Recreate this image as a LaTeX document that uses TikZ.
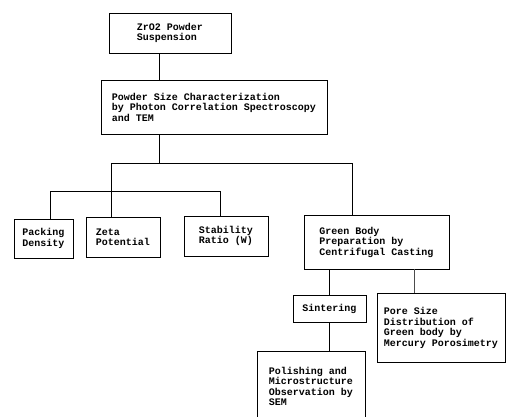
\documentclass[tikz,border=0pt]{standalone}
\usepackage{fontspec}
\setmonofont{Liberation Mono}
\usepackage{tikz}
\usetikzlibrary{shapes,arrows,positioning}

\begin{document}
\begin{tikzpicture}[x=1pt,y=-1pt]
		\tikzstyle{Box}		= [rectangle, draw, line width=0.9pt, inner sep=0pt, align=left, font=\ttfamily\bfseries\fontsize{10}{10.5}\selectfont]
		\tikzstyle{Line}	= [line width=0.9pt, black]
		\tikzstyle{Gray}	= [line width=0.9pt, black!70]

		\useasboundingbox (0,0) rectangle (514,417);

		\node (zr)   at (170, 33)    [Box, minimum width=122pt, minimum height=40pt] {ZrO2 Powder\\Suspension};
		\node (psc)  at (214, 107)   [Box, minimum width=226pt, minimum height=54pt] {Powder Size Characterization\\by Photon Correlation Spectroscopy\\and TEM};
		\node (pack) at (43.5, 238.5) [Box, minimum width=59pt, minimum height=39pt] {Packing\\Density};
		\node (zeta) at (123, 237)   [Box, minimum width=74pt, minimum height=40pt] {Zeta\\Potential};
		\node (stab) at (226, 236)   [Box, minimum width=84pt, minimum height=40pt] {Stability\\Ratio (W)};
		\node (gbp)  at (376.5, 242) [Box, minimum width=145pt, minimum height=54pt] {Green Body\\Preparation by\\Centrifugal Casting};
		\node (sint) at (329.5, 308.5) [Box, minimum width=73pt, minimum height=27pt] {Sintering};
		\node (pore) at (441, 328)   [Box, minimum width=128pt, minimum height=69pt] {Pore Size\\Distribution of\\Green body by\\Mercury Porosimetry};
		\node (pol)  at (311, 386.5) [Box, minimum width=108pt, minimum height=71pt] {Polishing and\\Microstructure\\Observation by\\SEM};

		\coordinate (t1) at (159, 163);
		\coordinate (t2) at (352, 163);
		\coordinate (t3) at (111, 163);
		\coordinate (h1) at (50, 191);
		\coordinate (h2) at (220, 191);
		\coordinate (g1) at (329, 0);
		\coordinate (g2) at (414, 0);

		\draw [-] (zr.south -| t1) to (psc.north -| t1) [Line];
		\draw [-] (psc.south -| t1) to (t1) [Line];
		\draw [-] (t3) to (t2) [Line];
		\draw [-] (t3) to (zeta.north -| t3) [Line];
		\draw [-] (t2) to (gbp.north -| t2) [Line];
		\draw [-] (h1) to (h2) [Line];
		\draw [-] (h1) to (pack.north -| h1) [Line];
		\draw [-] (h2) to (stab.north -| h2) [Line];
		\draw [-] (gbp.south -| g1) to (sint.north -| g1) [Line];
		\draw [-] (gbp.south -| g2) to (pore.north -| g2) [Gray];
		\draw [-] (sint.south -| g1) to (pol.north -| g1) [Line];
	\end{tikzpicture}
\end{document}
